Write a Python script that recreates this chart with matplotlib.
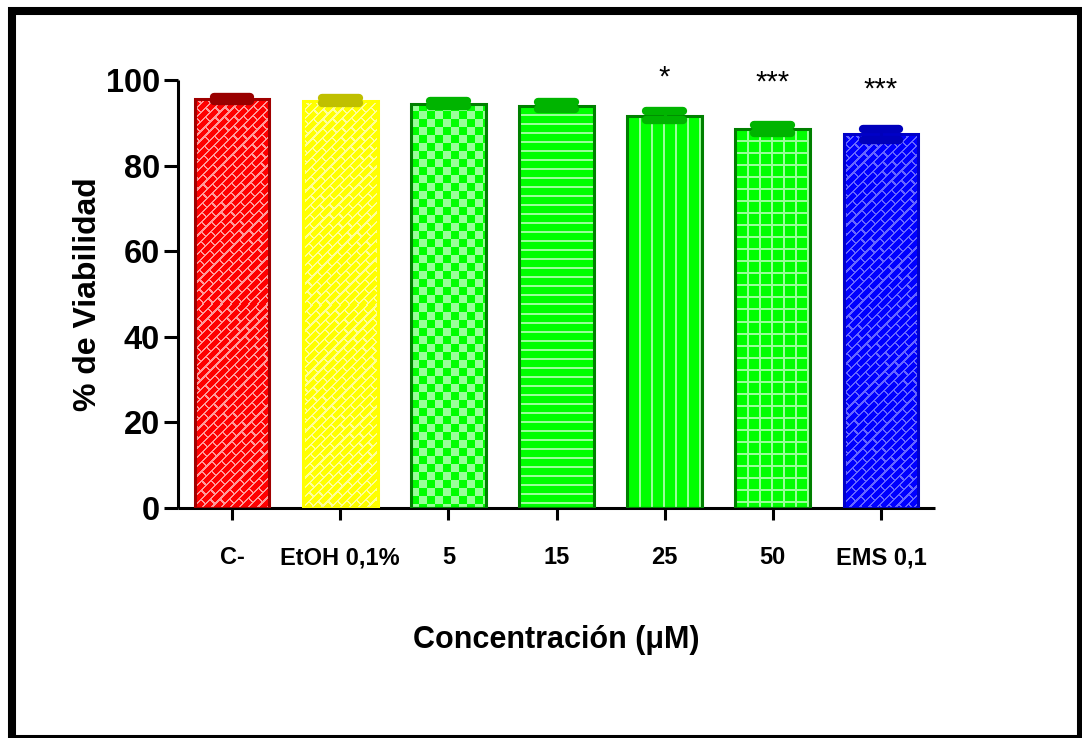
import numpy as np
import matplotlib
matplotlib.use("Agg")
import matplotlib.pyplot as plt
from matplotlib.colors import to_rgb
from matplotlib.patches import Rectangle

plt.rcParams['font.family'] = ['Liberation Sans', 'DejaVu Sans']

# data
groups = ["C-", "EtOH 0,1%", "5", "15", "25", "50", "EMS 0,1"]
means = [95.6, 95.2, 94.5, 94.0, 91.7, 88.6, 87.3]
sems = [0.53, 0.61, 0.64, 0.79, 1.15, 0.9, 1.36]
stars = ["", "", "", "", "*", "***", "***"]
star_y = [0, 0, 0, 0, 98.6, 97.6, 95.8]

# styling per bar
fills = ["#FF0000", "#FFFF00", "#00FF00", "#00FF00", "#00FF00", "#00FF00", "#0000FF"]
pales = ["#FF9999", "#FFFF99", "#99FF99", "#99FF99", "#99FF99", "#99FF99", "#6666FF"]
edges = ["#A00000", "#FFFF00", "#008000", "#008000", "#008000", "#008000", "#0000C8"]
caps = ["#990000", "#BFBF00", "#00B400", "#00B400", "#00B400", "#00B400", "#0000BB"]
kinds = ["brick", "brick", "checker", "hlines", "vlines", "grid", "brick"]


def texture(kind, w, h):
    yy, xx = np.mgrid[0:h, 0:w]
    if kind == "brick":
        u = (xx - yy) / np.sqrt(2)
        v = (xx + yy) / np.sqrt(2)
        row = np.floor(v / 6.5)
        m = (v % 6.5) < 1.6
        m |= ((u + (row % 2) * 7) % 14) < 1.6
        return m
    if kind == "checker":
        return ((xx // 8) + (yy // 8)) % 2 == 0
    if kind == "hlines":
        return (yy % 9) < 2
    if kind == "vlines":
        return (xx % 12) < 2
    return ((xx % 12) < 2) | ((yy % 12) < 2)


DPI = 100
fig = plt.figure(figsize=(10.82, 7.38), dpi=DPI)
ax = fig.add_axes([178 / 1082, 1 - 508 / 738, 757 / 1082, 428 / 738])
ax.set_xlim(-0.5, 6.5)
ax.set_ylim(0, 100)

x = np.arange(len(groups))
width = 0.69
px_x = 757 / 7.0
px_y = 428 / 100.0

for i in range(len(groups)):
    w = int(round(width * px_x))
    h = int(round(means[i] * px_y))
    m = texture(kinds[i], w, h)
    img = np.where(m[..., None], np.array(to_rgb(pales[i])), np.array(to_rgb(fills[i])))
    ax.imshow(img, extent=(x[i] - width / 2, x[i] + width / 2, 0, means[i]),
              origin="upper", aspect="auto", interpolation="nearest", zorder=2)

ax.bar(x, means, width, facecolor="none", edgecolor=edges, linewidth=2.2, zorder=3)

lo = np.array(means) - np.array(sems)
hi = np.array(means) + np.array(sems)
ax.vlines(x, lo, hi, colors=caps, linewidth=2.2, zorder=4)
ax.hlines(lo, x - 0.17, x + 0.17, colors=caps, linewidth=6, capstyle="round", zorder=4)
ax.hlines(hi, x - 0.17, x + 0.17, colors=caps, linewidth=6, capstyle="round", zorder=4)

for i, s in enumerate(stars):
    if s:
        ax.text(x[i], star_y[i], s, ha="center", va="baseline", fontsize=21)

for side in ["top", "right"]:
    ax.spines[side].set_visible(False)
for side in ["left", "bottom"]:
    ax.spines[side].set_linewidth(2.2)
    ax.spines[side].set_capstyle("butt")

ax.set_yticks([0, 20, 40, 60, 80, 100])
ax.set_xticks(x)
ax.set_xticklabels(groups)
ax.tick_params(axis="y", length=10, width=2.2, pad=3, labelsize=23.5)
ax.tick_params(axis="x", length=8.6, width=2.2, pad=19, labelsize=17)
for lab in ax.get_yticklabels() + ax.get_xticklabels():
    lab.set_fontweight("bold")

ax.set_xlabel("Concentración (μM)", fontsize=22, fontweight="bold", va="center")
ax.set_ylabel("% de Viabilidad", fontsize=23, fontweight="bold", va="center")
ax.xaxis.set_label_coords(0.5, (508 - 640) / 428)
ax.yaxis.set_label_coords((88 - 178) / 757, 0.5)

# outer frame
fig.patches.append(Rectangle((12 / 1082, 1 - 739 / 738), 1069 / 1082, 728 / 738,
                             transform=fig.transFigure, fill=False,
                             edgecolor="black", linewidth=5.8))

fig.savefig("out.png", dpi=DPI)
